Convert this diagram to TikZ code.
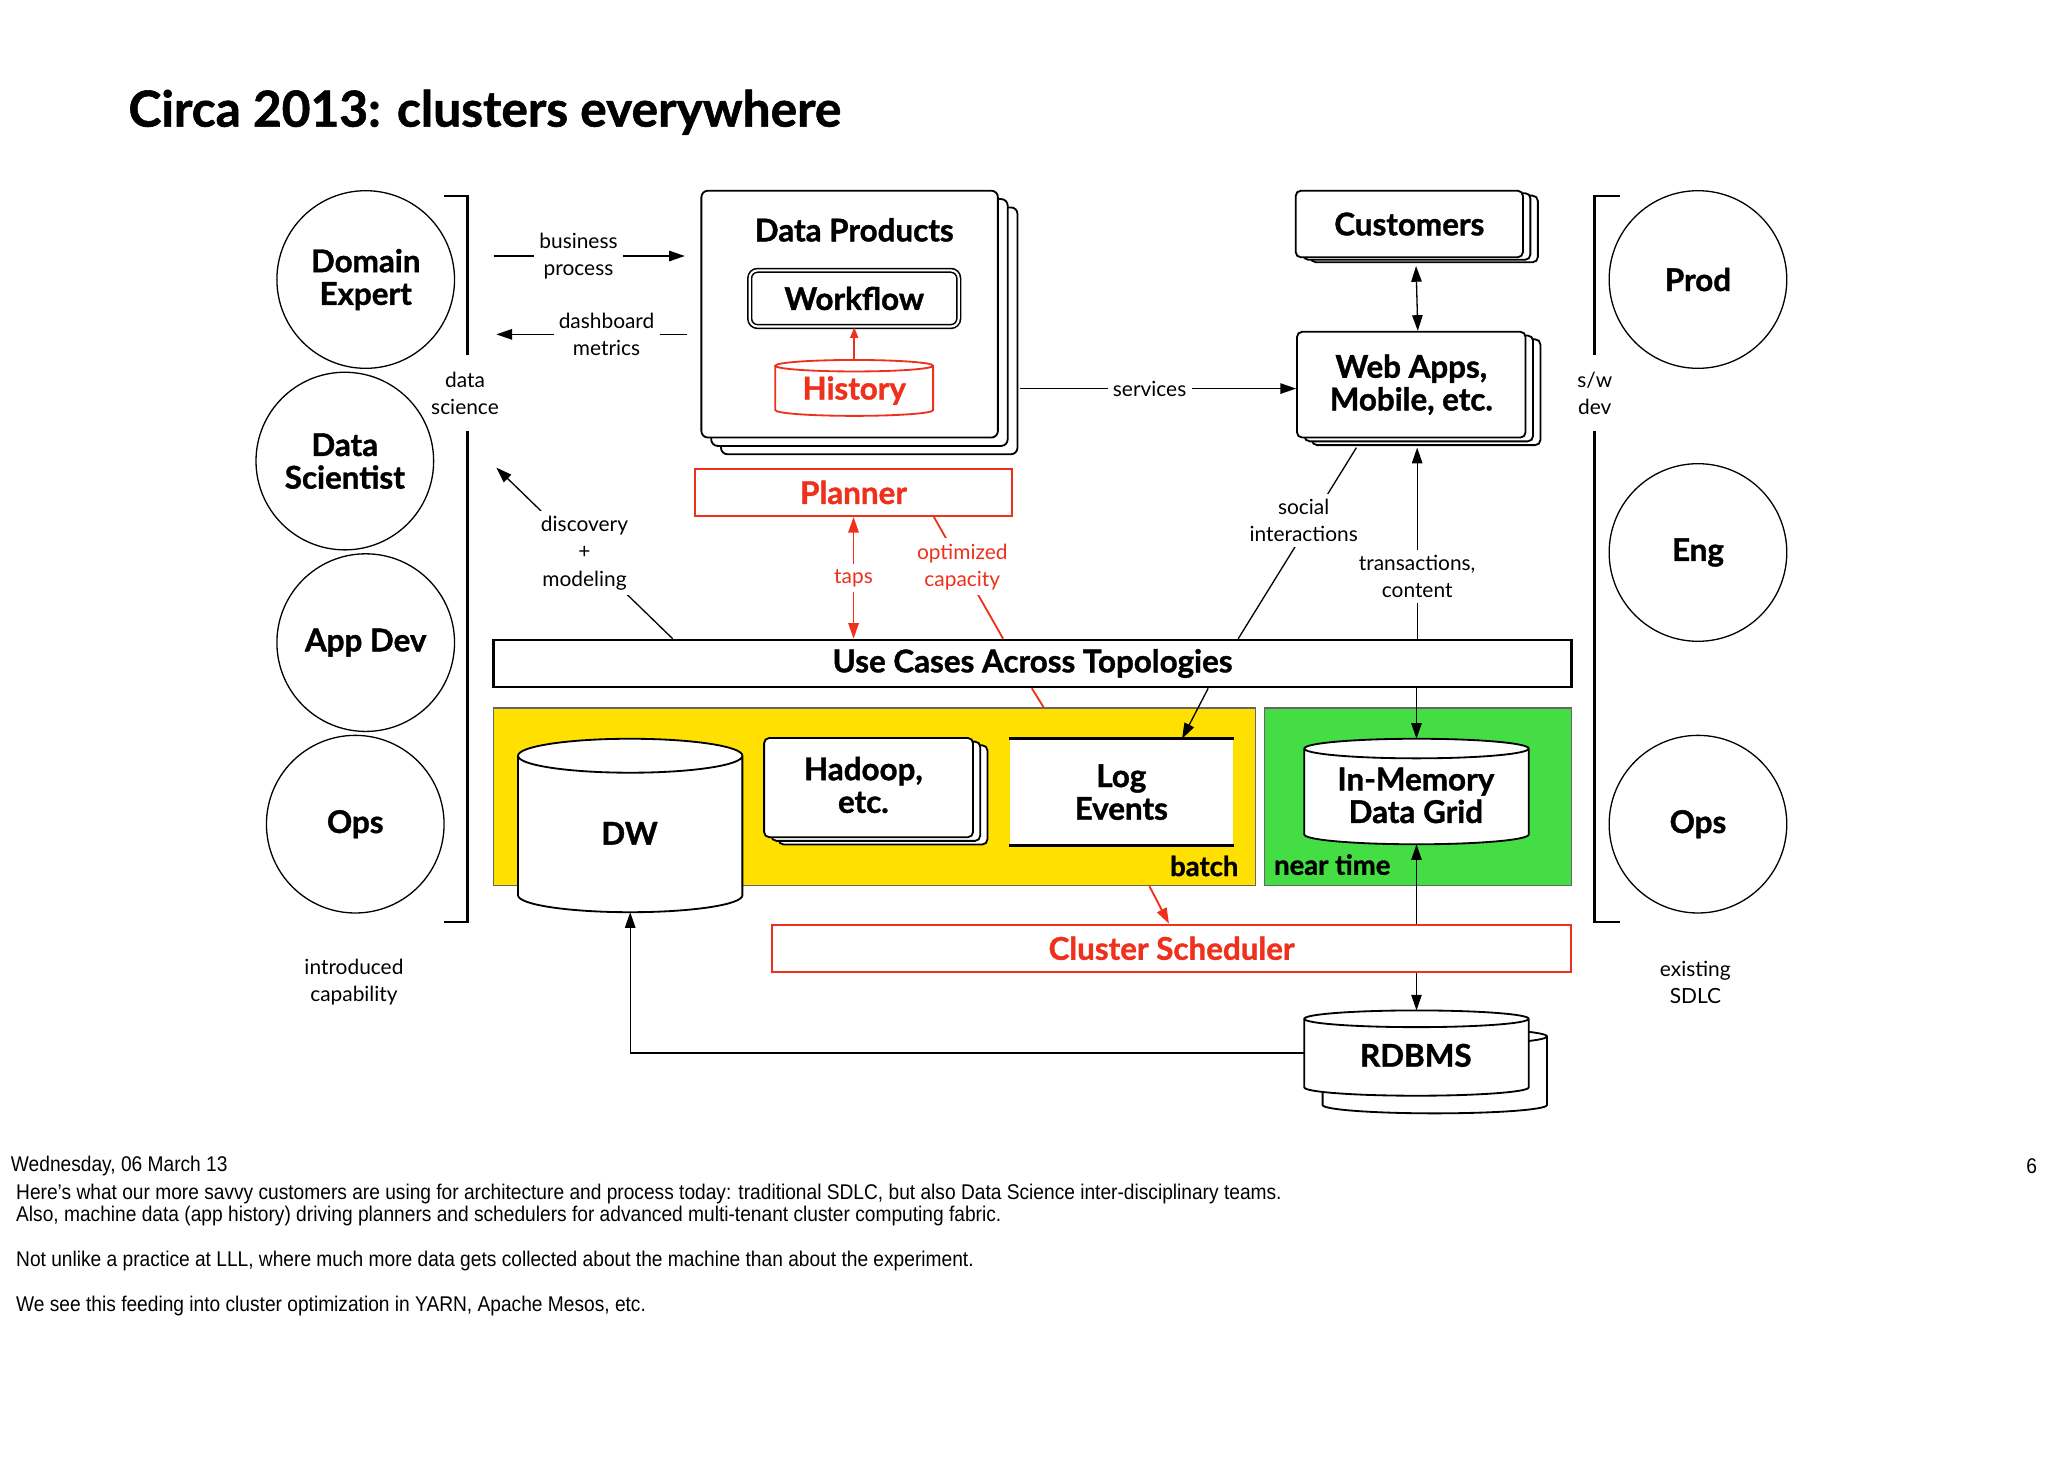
\documentclass[tikz,border=0pt]{standalone}
\usepackage{fontspec}
\setmainfont{Lato}[BoldFeatures={FakeBold=1.2}]
\newfontfamily\notefont[FakeStretch=0.9]{Liberation Sans}
\usetikzlibrary{calc,positioning,shadows,arrows.meta}

\definecolor{planred}{RGB}{238,48,28}
\definecolor{batchyellow}{RGB}{255,224,0}
\definecolor{neargreen}{RGB}{68,221,68}

\newcommand\boxfont{\bfseries\fontsize{12}{12.5}\selectfont}
\newcommand\tagfont{\bfseries\fontsize{10.5}{12}\selectfont}
\newcommand\thinfont{\fontsize{8}{10.5}\selectfont}

% cylinder body round a (text-less) node
\newcommand\cylfill[3][black]{%
  \path[draw=#1,fill=white,line width=0.7pt]
    let \p1=(#2.north west), \p2=(#2.south east), \n1={(\x2-\x1)/2} in
    (\x1,\y1-#3) -- (\x1,\y2+#3)
    arc[start angle=180,end angle=360,x radius=\n1*1pt,y radius=#3]
    -- (\x2,\y1-#3)
    arc[start angle=0,end angle=360,x radius=\n1*1pt,y radius=#3];
}

\begin{document}
\begin{tikzpicture}[
x=0.5pt,y=-0.5pt,
>={Triangle[length=6pt,width=4pt]},
person/.style={
	circle,
	draw,
	line width=0.5pt,
	minimum size=68pt,
	inner sep=0pt,
	font=\boxfont,
	align=center
},
box/.style={
	draw,
	line width=0.7pt,
	font=\boxfont,
	align=center,
	inner sep=0pt
},
stack/.style n args={4}{
	box,
	fill=white,
	rounded corners=2pt,
	copy shadow={shadow xshift=#3,shadow yshift=-#4,draw,fill=white,line width=0.7pt},
	copy shadow={shadow xshift=#1,shadow yshift=-#2,draw,fill=white,line width=0.7pt}
},
redbox/.style={
	box,
	draw=planred,
	text=planred,
	line width=0.8pt
},
cylbox/.style={
	minimum width=85.5pt,
	inner sep=0pt
},
note/.style={
	fill=white,
	font=\thinfont,
	align=center,
	inner sep=2pt
},
rednote/.style={note,text=planred},
link/.style={line width=0.5pt},
flow/.style={link,->},
redlink/.style={line width=0.7pt,draw=planred},
redflow/.style={redlink,->,>={Triangle[length=6pt,width=4pt]}},
bracket/.style={line width=1pt},
notes/.style={font=\notefont\fontsize{8.15}{8.6}\selectfont,inner sep=0pt}
]
\useasboundingbox (0,0) rectangle (1568,1129.3);

\node[anchor=west,inner sep=0pt,font=\bfseries\fontsize{19}{22}\selectfont] (title) at (98,86) {Circa 2013: clusters everywhere};

% people
\node[person] (dexp) at (280,214) {Domain\\Expert};
\node[person] (dsci) at (264,353) {Data\\Scientist};
\node[person] (adev) at (280,492) {App Dev};
\node[person] (opsl) at (272,631) {Ops};
\node[person] (prod) at (1300,214) {Prod};
\node[person] (eng) at (1300,423) {Eng};
\node[person] (opsr) at (1300,631) {Ops};

% brackets
\draw[bracket] (340,150) -- (358,150) -- (358,272);
\draw[bracket] (358,330) -- (358,706) -- (340,706);
\draw[bracket] (1240,150) -- (1221,150) -- (1221,272);
\draw[bracket] (1221,330) -- (1221,706) -- (1240,706);
\node[font=\thinfont,align=center] (dsl) at (356,301) {data\\science};
\node[font=\thinfont,align=center] (swd) at (1221,301) {s/w\\dev};
\node[font=\thinfont,align=center] (intro) at (271,752) {introduced\\capability};
\node[font=\thinfont,align=center] (sdlc) at (1298,752) {existing\\SDLC};

% data products
\node[stack={3.75pt}{3.2pt}{7.5pt}{6.4pt},minimum width=113.5pt,minimum height=94.5pt,rounded corners=2.5pt] (dp) at (650.5,240.5) {};
\node[font=\boxfont] (dptitle) at (654,176) {Data Products};
\node[box,rounded corners=3pt,double,double distance=0.8pt,line width=0.6pt,minimum width=80pt,minimum height=21.5pt] (wf) at (654,228.5) {Workflow};
\node[cylbox,minimum width=60pt,minimum height=21pt] (hist) at (654,297) {};
\cylfill[planred]{hist}{2.2pt}
\node[font=\boxfont,text=planred] (hist-t) at (654,299) {History};
\draw[redlink,->,>={Triangle[length=4pt,width=3pt]}] (hist.north) -- (wf.south);

% customers side
\node[stack={2.85pt}{0.95pt}{5.7pt}{1.9pt},minimum width=87pt,minimum height=25.5pt] (cust) at (1079,171.5) {Customers};
\node[stack={2.85pt}{1.45pt}{5.7pt}{2.9pt},minimum width=87.5pt,minimum height=40.5pt] (web) at (1080.5,294.5) {Web Apps,\\Mobile, etc.};

% planners and use cases
\node[redbox,minimum width=121.5pt,minimum height=18pt] (plan) at (653.5,377) {Planner};
\node[box,line width=1pt,minimum width=412.5pt,minimum height=18pt] (uc) at (790.5,508) {Use Cases Across Topologies};

% batch / near time
\node[draw=black!60,line width=0.5pt,fill=batchyellow,minimum width=291.5pt,minimum height=68pt] (yel) at (669.5,610) {};
\node[draw=black!60,line width=0.5pt,fill=neargreen,minimum width=117.5pt,minimum height=68pt] (grn) at (1085.5,610) {};
\node[font=\tagfont] (batch) at (922,663) {batch};
\node[font=\tagfont] (near) at (1020,662) {near time};

\node[cylbox,minimum height=66pt] (dw) at (482.5,632) {};
\cylfill{dw}{6.5pt}
\node[font=\boxfont] (dw-t) at (482,638) {DW};
\node[stack={2.75pt}{1.4pt}{5.5pt}{2.8pt},minimum width=80pt,minimum height=38pt] (had) at (665,603) {};
\node[font=\boxfont,align=center] (had-t) at (661,601) {Hadoop,\\etc.};
\node[fill=white,font=\boxfont,align=center,minimum width=85.5pt,minimum height=40.5pt,inner sep=0pt] (log) at (858.5,606.5) {Log\\Events};
\draw[line width=1pt] (log.north west) -- (log.north east);
\draw[line width=1pt] (log.south west) -- (log.south east);
\node[cylbox,minimum height=40pt] (imdg) at (1084.5,606) {};
\cylfill{imdg}{3.75pt}
\node[font=\boxfont,align=center] (imdg-t) at (1084,609) {In-Memory\\Data Grid};

\node[redbox,minimum width=306pt,minimum height=18pt] (sched) at (897,726) {Cluster Scheduler};

\node[cylbox,minimum height=32.25pt] (rdbb) at (1098.5,819.75) {};
\cylfill{rdbb}{3.2pt}
\node[cylbox,minimum height=32.25pt] (rdb) at (1084.5,806.25) {};
\cylfill{rdb}{3.2pt}
\node[font=\boxfont] (rdb-t) at (1084,808) {RDBMS};

% connectors
\coordinate (bpS) at (378,196);
\coordinate (dmE) at (380,256);
\coordinate (dmoE) at (380,358);
\draw[flow,shorten >=6pt] (bpS) -- node[note,pos=.41] {business\\process} (bpS -| dp.west);
\draw[flow,shorten <=5pt] (dmE -| dp.west) -- node[note,pos=.46] {dashboard\\metrics} (dmE);
\draw[flow] ($(dp.east |- web.west)+(16,3)$) -- node[note,pos=.47] {services} ($(web.west)+(0,3)$);
\draw[link,<->,shorten <=3pt] ([xshift=2.5pt]cust.south) -- ([xshift=2.5pt]web.north);
\draw[link] (uc.north -| 948,0) -- node[note,pos=.62,xshift=-3pt] {social\\interactions} ($(web.south)+(-42,7)$);
\draw[flow,shorten >=3.5pt] (uc.north -| 1085,0) -- node[note,pos=.31] {transactions,\\content} (web.south -| 1085,0);
\draw[flow] (uc.north -| 515,0) -- node[note] {discovery\\+\\modeling} (dmoE);
\draw[redflow,<->] (plan.south) -- node[rednote] {taps} (uc.north -| plan.south);
\draw[redlink] (plan.south -| 715,0) -- node[rednote,pos=.41] {optimized\\capacity} (uc.north -| 768,0);
\draw[redlink] (uc.south -| 790,0) -- (yel.north -| 799,0);
\draw[redflow] (yel.south -| 880,0) -- (sched.north -| 895,0);
\draw[flow] (uc.south -| 925,0) -- (log.north -| 905,0);
\draw[flow] (uc.south -| imdg.north) -- (imdg.north);
\draw[flow] (sched.north -| imdg.south) -- (imdg.south);
\draw[flow] (sched.south -| rdb.north) -- (rdb.north);
\draw[flow] (rdb.west) -| (dw.south);

% speaker notes
\node[notes,anchor=west] (date) at (8,893) {Wednesday, 06 March 13};
\node[notes,anchor=east] (pgno) at (1560,893) {6};
\node[notes,anchor=north west,align=left] (memo) at (12,906) {Here’s what our more savvy customers are using for architecture and process today: traditional SDLC, but also Data Science inter-disciplinary teams.\\Also, machine data (app history) driving planners and schedulers for advanced multi-tenant cluster computing fabric.\\[8.6pt]Not unlike a practice at LLL, where much more data gets collected about the machine than about the experiment.\\[8.6pt]We see this feeding into cluster optimization in YARN, Apache Mesos, etc.};
\end{tikzpicture}
\end{document}
